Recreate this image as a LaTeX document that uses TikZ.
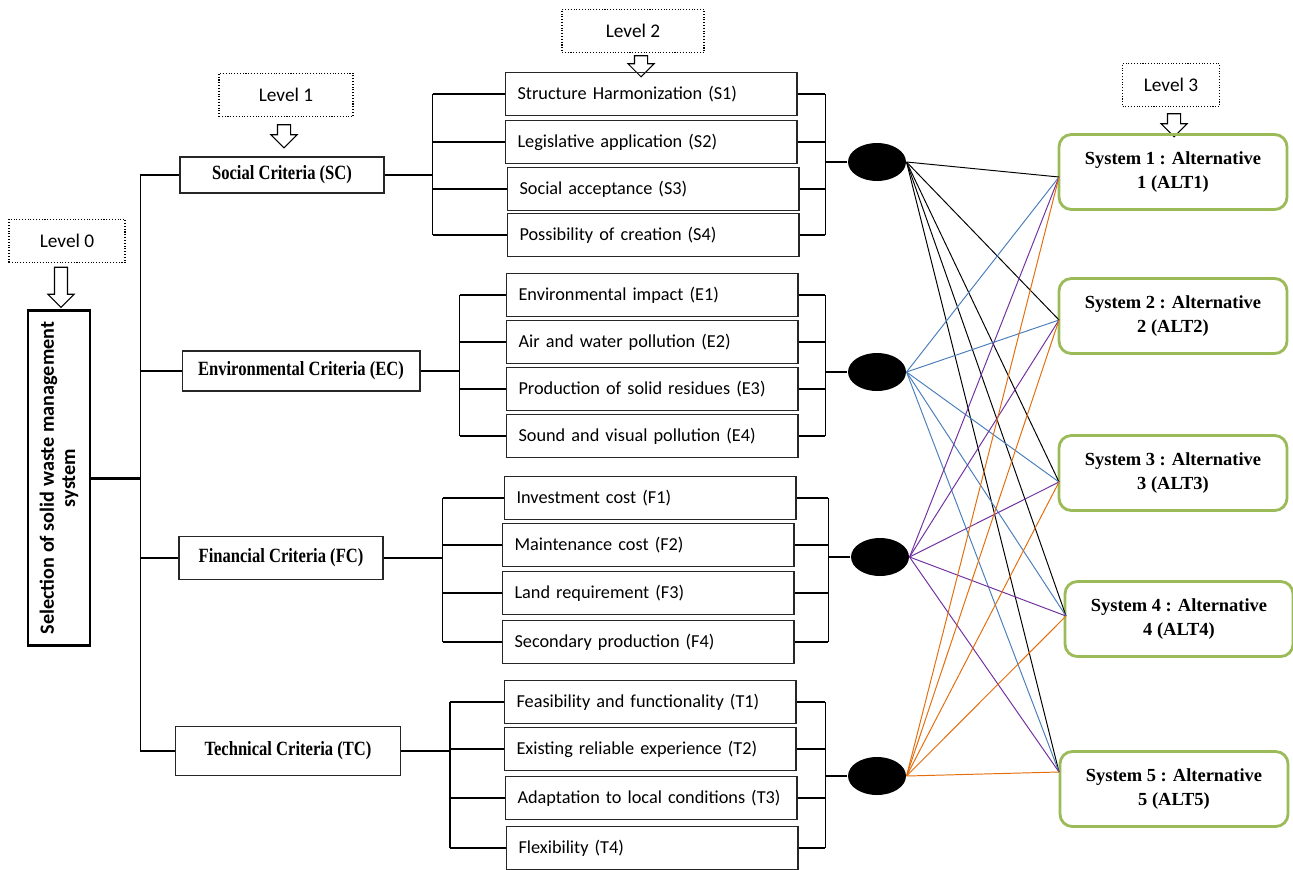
\documentclass[tikz,border=0pt]{standalone}
\usepackage{fontspec}
\setmainfont{Liberation Serif}
\newfontfamily\calibri{Carlito}
\newfontfamily\narrowserif[FakeStretch=0.82]{Liberation Serif}
\usetikzlibrary{shapes.geometric,shapes.arrows}
\definecolor{altGreen}{HTML}{9BBB59}
\definecolor{linkBlue}{HTML}{4A7EBB}
\definecolor{linkPurple}{HTML}{7030A0}
\definecolor{linkOrange}{HTML}{E46C0A}

\begin{document}
\begin{tikzpicture}[x=0.02cm, y=-0.02cm, line width=0.6pt,
  lvl/.style={draw, densely dotted, font=\calibri\fontsize{11}{13}\selectfont,
              minimum height=0.87cm, inner sep=0pt},
  down/.style={draw, solid, fill=white, single arrow, shape border rotate=270,
               minimum width=0.5cm, single arrow head extend=0.13cm, inner sep=0.12cm},
  goal/.style={draw, line width=1.7pt, rotate=90, align=center,
               font=\calibri\bfseries\fontsize{11.5}{12}\selectfont,
               minimum width=6.72cm, minimum height=1.24cm, inner sep=0pt},
  crit/.style={draw=black!85, font=\narrowserif\bfseries\fontsize{11.5}{13}\selectfont,
               inner sep=0pt},
  sub/.style={draw=black!85, font=\calibri\fontsize{10.4}{12}\selectfont,
              text width=5.34cm, align=left, inner xsep=0.25cm,
              minimum height=0.86cm},
  hub/.style={ellipse, fill=black, minimum width=1.16cm, minimum height=0.76cm,
              inner sep=0pt},
  alt/.style={draw=altGreen, line width=1.6pt, rounded corners=7pt, align=center,
              font=\bfseries\fontsize{10.5}{13.6}\selectfont,
              minimum width=4.56cm, minimum height=1.5cm},
  wire/.style={line width=0.55pt}
]
\useasboundingbox (0,0) rectangle (1293,869);

% levels
\node[lvl, minimum width=2.32cm] (lv0) at (67,241)  {Level 0};
\node[lvl, minimum width=2.68cm] (lv1) at (286,95)  {Level 1};
\node[lvl, minimum width=2.84cm] (lv2) at (633,31)  {Level 2};
\node[lvl, minimum width=1.94cm] (lv3) at (1171,85) {Level 3};
\node[down, minimum height=0.8cm]  (ar0) at (61,284)   {};
\node[down, minimum height=0.46cm] (ar1) at (284,133)  {};
\node[down, minimum height=0.42cm] (ar2) at (641,63)   {};
\node[down, minimum height=0.46cm] (ar3) at (1174,122) {};

% goal
\node[goal] (root) at (59,478) {Selection of solid waste management\\system};

% criteria
\node[crit, minimum width=4.08cm, minimum height=0.72cm] (sc) at (282,175) {Social Criteria (SC)};
\node[crit, minimum width=4.76cm, minimum height=0.8cm]  (ec) at (301,371) {Environmental Criteria (EC)};
\node[crit, minimum width=4.08cm, minimum height=0.86cm] (fc) at (281,558) {Financial Criteria (FC)};
\node[crit, minimum width=4.5cm,  minimum height=0.98cm] (tc) at (288,751) {Technical Criteria (TC)};

% sub-criteria
\foreach \n/\x/\y/\txt in {
    s1/651/94/Structure Harmonization (S1),
    s2/651/142/Legislative application (S2),
    s3/653/189/Social acceptance (S3),
    s4/653/235/Possibility of creation (S4),
    e1/652/295/Environmental impact (E1),
    e2/652/342/Air and water pollution (E2),
    e3/652/389/Production of solid residues (E3),
    e4/652/436/Sound and visual pollution (E4),
    f1/650/498/Investment cost (F1),
    f2/648/545/Maintenance cost (F2),
    f3/648/593/Land requirement (F3),
    f4/648/642/Secondary production (F4),
    t1/650/702/Feasibility and functionality (T1),
    t2/650/749/Existing reliable experience (T2),
    t3/651/798/Adaptation to local conditions (T3),
    t4/652/848/Flexibility (T4)}
  \node[sub] (\n) at (\x,\y) {\txt};

% hubs
\node[hub] (h1) at (877,162) {};
\node[hub] (h2) at (877,372) {};
\node[hub] (h3) at (880,557) {};
\node[hub] (h4) at (877,776) {};

% alternatives
\node[alt] (alt1) at (1173,172) {System 1 : Alternative\\1 (ALT1)};
\node[alt] (alt2) at (1173,316) {System 2 : Alternative\\2 (ALT2)};
\node[alt] (alt3) at (1173,473) {System 3 : Alternative\\3 (ALT3)};
\node[alt] (alt4) at (1179,619) {System 4 : Alternative\\4 (ALT4)};
\node[alt] (alt5) at (1174,789) {System 5 : Alternative\\5 (ALT5)};
\coordinate (in1) at (1059,177);
\coordinate (in2) at (1059,320);
\coordinate (in3) at (1059,482);
\coordinate (in4) at (1066,616);
\coordinate (in5) at (1059,772);

% tree
\draw[line width=1.7pt] (root.south) -- ++(49,0) coordinate (trunk);
\draw (trunk |- sc.west) -- (trunk |- tc.west);
\foreach \c in {sc,ec,fc,tc}
  \draw (trunk |- \c.west) -- (\c.west);

\foreach \c/\g/\d/\h in {sc/s/48/h1, ec/e/39/h2, fc/f/59/h3, tc/t/49/h4} {
  \draw (\c.east) -- ++(\d,0) coordinate (\c-l);
  \draw (\c-l |- \g1.west) -- (\c-l |- \g4.west);
  \draw (\h.west) -- ++(-22,0) coordinate (\c-r);
  \draw (\c-r |- \g1.east) -- (\c-r |- \g4.east);
  \foreach \i in {1,...,4} {
    \draw (\c-l |- \g\i.west) -- (\g\i.west);
    \draw (\g\i.east) -- (\c-r |- \g\i.east);
  }
}

% links to alternatives
\foreach \h/\col in {h1/black, h2/linkBlue, h3/linkPurple, h4/linkOrange}
  \foreach \a in {1,...,5}
    \draw[wire, \col] (\h.east) -- (in\a);
\end{tikzpicture}
\end{document}
